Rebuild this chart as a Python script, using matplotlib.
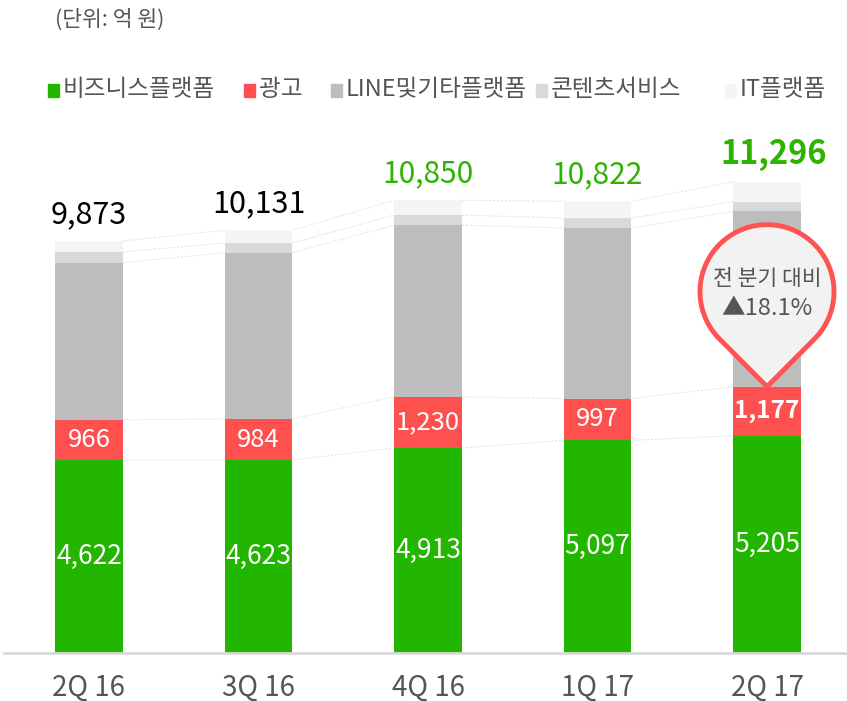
import numpy as np
import matplotlib
matplotlib.use("Agg")
import matplotlib.pyplot as plt
from matplotlib.patches import Rectangle, PathPatch
from matplotlib.path import Path

plt.rcParams['font.family'] = ['Noto Sans CJK KR', 'DejaVu Sans']

quarters = ['2Q 16', '3Q 16', '4Q 16', '1Q 17', '2Q 17']
biz = [4622, 4623, 4913, 5097, 5205]
ads = [966, 984, 1230, 997, 1177]
line_etc = [3760, 3990, 4110, 4090, 4200]
content = [262, 230, 240, 240, 234]
it = [263, 304, 357, 398, 480]
totals = [9873, 10131, 10850, 10822, 11296]

names = ['비즈니스플랫폼', '광고', 'LINE및기타플랫폼', '콘텐츠서비스', 'IT플랫폼']
colors = ['#22b600', '#ff5050', '#bdbdbd', '#d9d9d9', '#f5f5f5']
green_txt = '#2db400'
grey_txt = '#555555'

W, H = 847, 701
fig = plt.figure(figsize=(W / 100, H / 100), dpi=100)

# axes placed in pixel terms
ax_left, ax_right, ax_top, ax_bottom = 4, 847, 120, 653
ax = fig.add_axes([ax_left / W, 1 - ax_bottom / H, (ax_right - ax_left) / W, (ax_bottom - ax_top) / H])
scale = 412 / 9873  # px per unit
ax.set_ylim(0, (ax_bottom - ax_top) / scale)
ax.set_xlim((ax_left - 89) / 169.5, (ax_right - 89) / 169.5)

x = np.arange(len(quarters))
width = 0.40
series = [biz, ads, line_etc, content, it]
bottom = np.zeros(len(quarters))
tops = []
for vals, c in zip(series, colors):
    vals = np.array(vals, dtype=float)
    ax.bar(x, vals, width, bottom=bottom, color=c, edgecolor='none', zorder=2)
    bottom = bottom + vals
    tops.append(bottom.copy())

# connectors between bars
for level in tops:
    for i in range(len(x) - 1):
        ax.plot([x[i] + width / 2, x[i + 1] - width / 2], [level[i], level[i + 1]],
                color='#e3e3e3', lw=0.8, ls=(0, (2, 1.5)), zorder=1)

# labels inside bars
for i in range(len(x)):
    ax.text(x[i], biz[i] / 2, f'{biz[i]:,}', ha='center', va='center', color='white', fontsize=19, zorder=3)
    if i == 4:
        ax.text(x[i], biz[i] + ads[i] / 2, f'{ads[i]:,}', ha='center', va='center', color='white',
                fontsize=17.5, fontweight='bold', zorder=3)
    else:
        ax.text(x[i], biz[i] + ads[i] / 2, f'{ads[i]:,}', ha='center', va='center', color='white',
                fontsize=18.5, zorder=3)
    top = tops[-1][i]
    if i < 2:
        col, fs, fw = 'black', 22, 'normal'
    elif i < 4:
        col, fs, fw = green_txt, 21.5, 'normal'
    else:
        col, fs, fw = green_txt, 23.5, 'bold'
    ax.text(x[i] + (0.04 if i == 4 else 0), top + 11 / scale, f'{totals[i]:,}', ha='center', va='bottom',
            color=col, fontsize=fs, fontweight=fw, zorder=3)

ax.set_xticks(x)
ax.set_xticklabels(quarters, fontsize=20, color=grey_txt)
ax.tick_params(axis='x', length=0, pad=14)
ax.set_yticks([])
for s in ['top', 'right', 'left']:
    ax.spines[s].set_visible(False)
ax.spines['bottom'].set_color('#d9d9d9')
ax.spines['bottom'].set_linewidth(2)

# overlay in pixel coords for title, legend and callout
ov = fig.add_axes([0, 0, 1, 1], facecolor='none')
ov.set_xlim(0, W)
ov.set_ylim(H, 0)
ov.axis('off')

ov.text(55, 20, '(단위: 억 원)', fontsize=15.5, color=grey_txt, va='center', ha='left')

leg_x = [48, 244, 331, 536, 725]
for lx, nm, c in zip(leg_x, names, colors):
    ov.add_patch(Rectangle((lx, 84), 11, 13, color=c))
    ov.text(lx + 15, 90, nm, fontsize=17, color=grey_txt, va='center', ha='left')

# callout pin anchored at top of ads segment of last bar
tip_disp = ax.transData.transform((x[4], tops[1][4]))
tip = ov.transData.inverted().transform(tip_disp)
cx, cy, r = tip[0], tip[1] - 95, 67
d = tip[1] - cy
ang = np.arccos(r / d)
a1 = np.pi / 2 - ang
a2 = np.pi / 2 + ang
theta = np.linspace(a2, a1 + 2 * np.pi, 200)
pts = [(cx + r * np.cos(t), cy + r * np.sin(t)) for t in theta]
verts = [tuple(tip)] + pts + [tuple(tip)]
codes = [Path.MOVETO] + [Path.LINETO] * (len(verts) - 2) + [Path.CLOSEPOLY]
ov.add_patch(PathPatch(Path(verts, codes), facecolor='#f2f2f2', edgecolor='#ff5252', lw=3.5,
                       joinstyle='round', zorder=5))
ov.text(cx, cy - 13, '전 분기 대비', fontsize=15.5, color=grey_txt, ha='center', va='center', zorder=6)
ov.text(cx, cy + 17, '▲18.1%', fontsize=17, color=grey_txt, ha='center', va='center', zorder=6)

fig.savefig('out.png', dpi=100)
